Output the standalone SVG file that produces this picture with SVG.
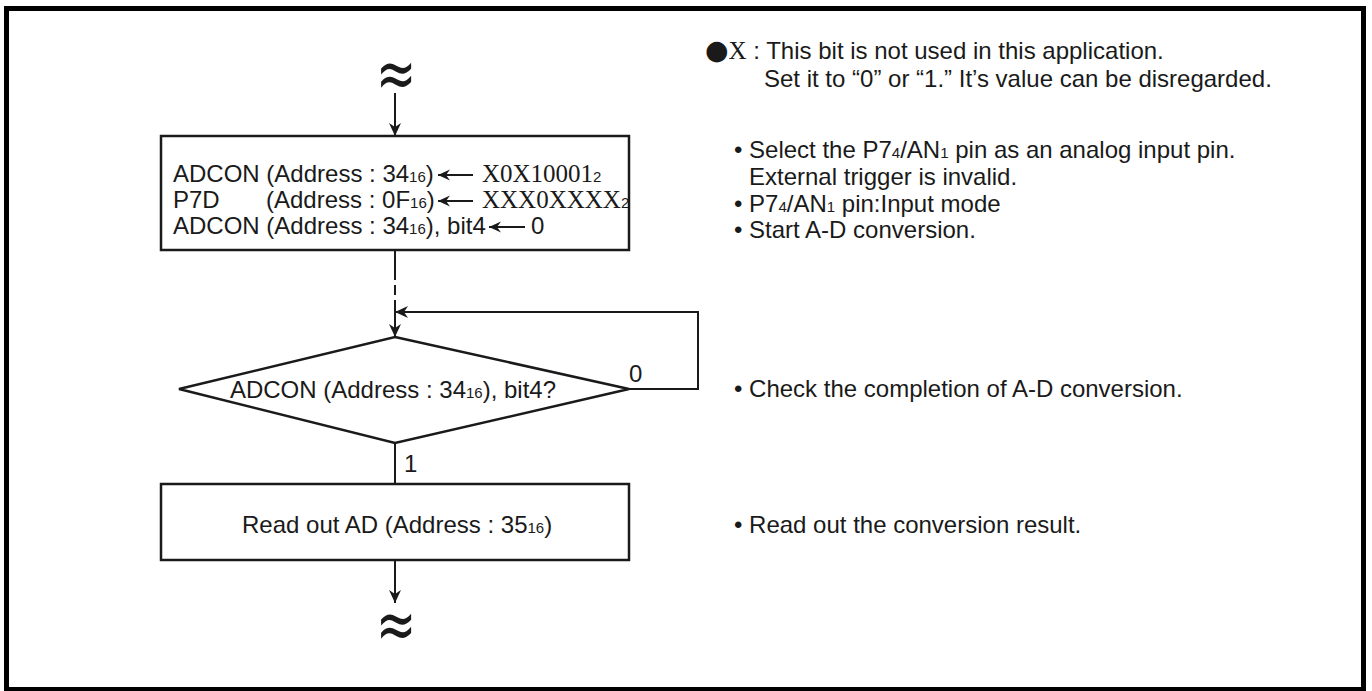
<svg xmlns="http://www.w3.org/2000/svg" width="1372" height="691" viewBox="0 0 1372 691">
<style>
.t{font-family:"Liberation Sans",Arial,sans-serif;font-size:24px;fill:#1a1a1a}
.s{font-size:15px}
.v{font-family:"Liberation Serif","Times New Roman",serif;font-size:25px;fill:#1a1a1a}
.box{fill:#fff;stroke:#1a1a1a;stroke-width:2.5}
.ln{fill:none;stroke:#1a1a1a;stroke-width:2}
.brk{font-family:"DejaVu Sans",sans-serif;font-size:48px;fill:#1a1a1a}
</style>
<defs>
<marker id="ah" viewBox="-14 -7 15 14" markerWidth="15" markerHeight="14" refX="0" refY="0" orient="auto" markerUnits="userSpaceOnUse">
<path d="M0,0 L-13,-6 L-9,0 L-13,6 Z" fill="#1a1a1a"/>
</marker>
<marker id="ahs" viewBox="-14 -7 15 14" markerWidth="15" markerHeight="14" refX="0" refY="0" orient="auto-start-reverse" markerUnits="userSpaceOnUse">
<path d="M0,0 L-12,-5.5 L-8,0 L-12,5.5 Z" fill="#1a1a1a"/>
</marker>
</defs>
<rect x="6.5" y="8.5" width="1357" height="681" fill="#fff" stroke="#000" stroke-width="5"/>

<g id="connectors">
<line class="ln" x1="395" y1="93" x2="395" y2="136" marker-end="url(#ah)"/>
<line class="ln" x1="395" y1="250" x2="395" y2="270"/>
<line class="ln" x1="395" y1="270" x2="395" y2="301" stroke-dasharray="10 5"/>
<line class="ln" x1="395" y1="301" x2="395" y2="337" marker-end="url(#ah)"/>
<polyline class="ln" points="629,389 698,389 698,312 395,312" marker-end="url(#ah)"/>
<line class="ln" x1="395" y1="443" x2="395" y2="484"/>
<line class="ln" x1="395" y1="560" x2="395" y2="603" marker-end="url(#ah)"/>
</g>

<g id="break-top" transform="translate(396,73.5) scale(1,1.45)"><text class="brk" x="0" y="16" text-anchor="middle">≈</text></g>

<g id="init">
<rect class="box" x="161" y="136" width="468" height="114"/>
<text class="t" x="173" y="182">ADCON (Address : 34<tspan class="s">16</tspan>)</text>
<line class="ln" x1="438" y1="175" x2="473" y2="175" marker-start="url(#ahs)"/>
<text class="v" x="482" y="182">X0X10001<tspan style="font-family:'Liberation Sans',Arial,sans-serif;font-size:15px">2</tspan></text>
<text class="t" x="173" y="208">P7D</text>
<text class="t" x="266" y="208">(Address : 0F<tspan class="s">16</tspan>)</text>
<line class="ln" x1="438" y1="201" x2="473" y2="201" marker-start="url(#ahs)"/>
<text class="v" x="482" y="208">XXX0XXXX<tspan style="font-family:'Liberation Sans',Arial,sans-serif;font-size:15px">2</tspan></text>
<text class="t" x="173" y="234">ADCON (Address : 34<tspan class="s">16</tspan>), bit4</text>
<line class="ln" x1="489" y1="227" x2="525" y2="227" marker-start="url(#ahs)"/>
<text class="t" x="531" y="234">0</text>
</g>

<g id="check">
<polygon class="box" points="395,337 629,389 395,443 179,389"/>
<text class="t" x="393" y="398" text-anchor="middle">ADCON (Address : 34<tspan class="s">16</tspan>), bit4?</text>
<text class="t" x="629" y="382">0</text>
<text class="t" x="404" y="472">1</text>
</g>

<g id="read">
<rect class="box" x="161" y="484" width="468" height="76"/>
<text class="t" x="242" y="533">Read out AD (Address : 35<tspan class="s">16</tspan>)</text>
</g>

<g id="break-bottom" transform="translate(396,625) scale(1,1.45)"><text class="brk" x="0" y="16" text-anchor="middle">≈</text></g>

<g id="notes">
<text class="t" x="705" y="59"><tspan style="font-family:'DejaVu Sans',sans-serif;font-size:27px">●</tspan><tspan class="v" style="font-size:25px">X</tspan> : This bit is not used in this application.</text>
<text class="t" x="764" y="87">Set it to “0” or “1.” It’s value can be disregarded.</text>
<text class="t" x="734" y="158">• Select the P7<tspan class="s">4</tspan>/AN<tspan class="s">1</tspan> pin as an analog input pin.</text>
<text class="t" x="749" y="185">External trigger is invalid.</text>
<text class="t" x="734" y="212">• P7<tspan class="s">4</tspan>/AN<tspan class="s">1</tspan> pin:Input mode</text>
<text class="t" x="734" y="238">• Start A-D conversion.</text>
<text class="t" x="734" y="397">• Check the completion of A-D conversion.</text>
<text class="t" x="734" y="533">• Read out the conversion result.</text>
</g>
</svg>
